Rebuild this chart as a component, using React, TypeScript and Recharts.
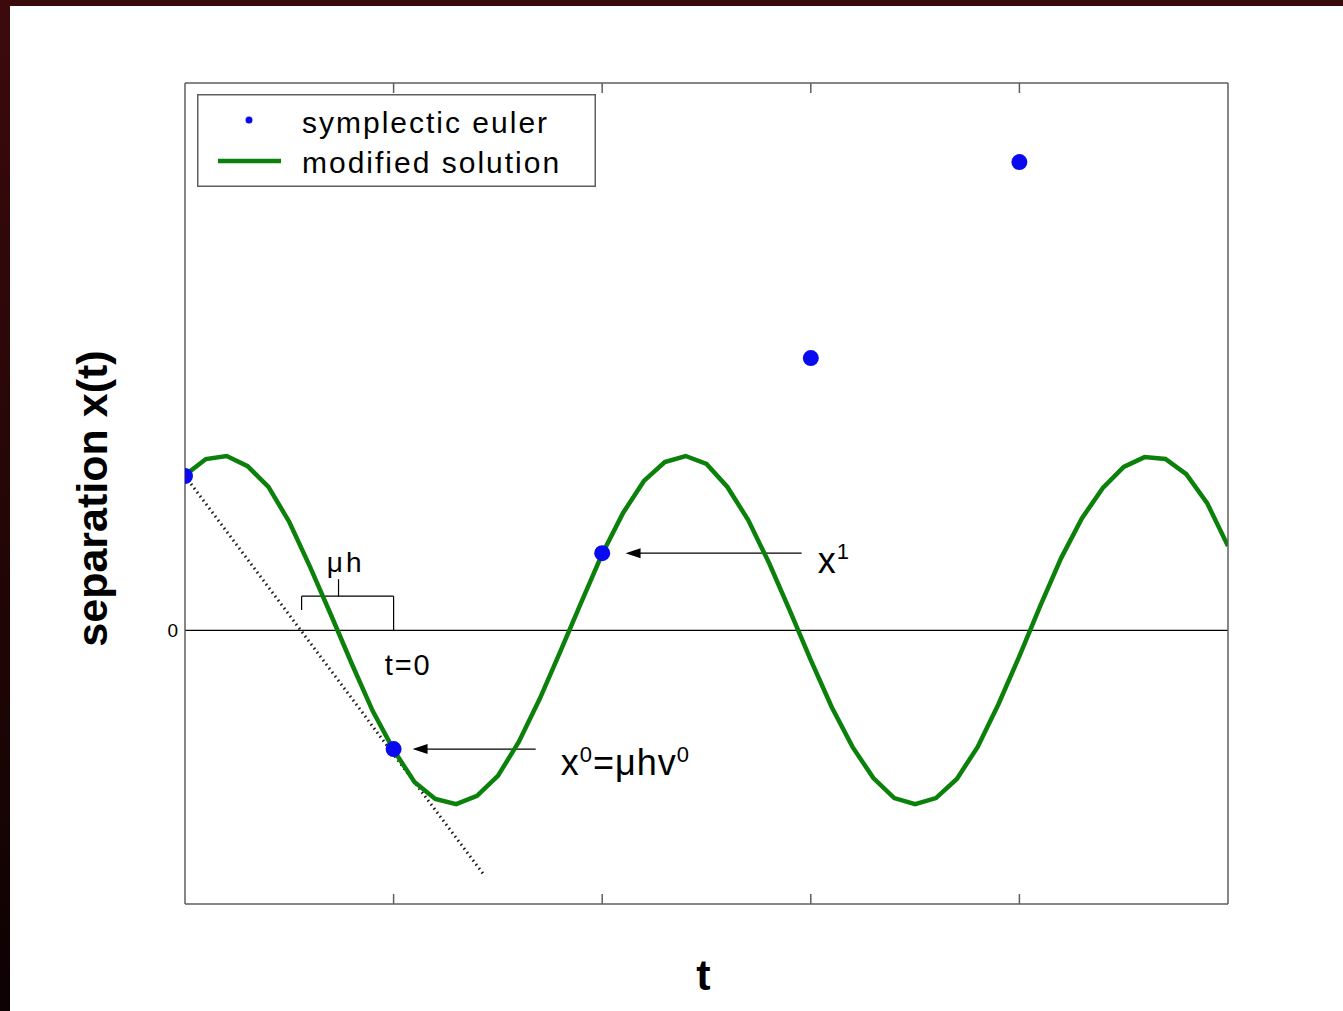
import React from 'react';
import {
  ComposedChart,
  Line,
  Scatter,
  XAxis,
  YAxis,
  Label,
  Legend,
  ReferenceLine,
  ReferenceDot,
} from 'recharts';

// time grid of the modified solution (step h = 0.1)
const curveT = [
  -1.0, -0.9, -0.8, -0.7, -0.6, -0.5, -0.4, -0.3, -0.2, -0.1,
  0.0, 0.1, 0.2, 0.3, 0.4, 0.5, 0.6, 0.7, 0.8, 0.9,
  1.0, 1.1, 1.2, 1.3, 1.4, 1.5, 1.6, 1.7, 1.8, 1.9,
  2.0, 2.1, 2.2, 2.3, 2.4, 2.5, 2.6, 2.7, 2.8, 2.9,
  3.0, 3.1, 3.2, 3.3, 3.4, 3.5, 3.6, 3.7, 3.8, 3.9,
  4.0,
];
const curveX = [
  0.567, 0.626, 0.637, 0.600, 0.524, 0.396, 0.231, 0.056, -0.123, -0.295,
  -0.437, -0.554, -0.616, -0.635, -0.605, -0.532, -0.408, -0.251, -0.076, 0.103,
  0.279, 0.429, 0.546, 0.615, 0.637, 0.608, 0.524, 0.403, 0.246, 0.071,
  -0.109, -0.280, -0.426, -0.540, -0.613, -0.635, -0.613, -0.543, -0.426, -0.269,
  -0.094, 0.089, 0.264, 0.410, 0.520, 0.597, 0.633, 0.626, 0.571, 0.465,
  0.308,
];

// symplectic euler iterates
const eulerT = [-1, 0, 1, 2, 3];
const eulerX = [0.564, -0.434, 0.282, 0.995, 1.711];

// tangent at the first iterate (dotted)
const tangentT = [-1, 0.43];
const tangentX = [0.564, -0.89];

const xTicks = [0, 1, 2, 3];
const yTicks = [0];

const X_DOMAIN = [-1, 4];
const Y_DOMAIN = [-1, 2];

const BLUE = '#0a0af0';
const GREEN = '#0b800b';
const AXIS = '#5e5e5e';
const FONT = '"Liberation Sans", Arial, Helvetica, sans-serif';

// inward tick marks, 10px long on an 821px tall plot
const TICK = (10 / 821) * (Y_DOMAIN[1] - Y_DOMAIN[0]);

const curveData = curveT.map((t, i) => ({ t, v: curveX[i] }));
const eulerData = eulerT.map((t, i) => ({ t, v: eulerX[i] }));
const tangentData = tangentT.map((t, i) => ({ t, v: tangentX[i] }));

const EulerDot = (p: any) => <circle cx={p.cx} cy={p.cy} r={8} fill={BLUE} />;

const ArrowHead = (p: any) => (
  <polygon
    points={`${p.cx},${p.cy} ${p.cx + 15},${p.cy - 5} ${p.cx + 15},${p.cy + 5}`}
    fill="#000"
  />
);

const YTick = ({ x, y, payload }: any) => (
  <text x={x} y={y + 7} textAnchor="end" fontSize={19} fontFamily={FONT} fill="#000">
    {payload.value}
  </text>
);

const note = (content: React.ReactNode, size: number, spacing = 0) => (p: any) => (
  <text
    x={p.cx}
    y={p.cy}
    fontSize={size}
    letterSpacing={spacing}
    fontFamily={FONT}
    fill="#000"
  >
    {content}
  </text>
);

const x0Text = (
  <>
    x<tspan fontSize={22} dy={-13}>0</tspan>
    <tspan dy={13}>=μhv</tspan>
    <tspan fontSize={22} dy={-13}>0</tspan>
  </>
);
const x1Text = (
  <>
    x<tspan fontSize={22} dy={-14}>1</tspan>
  </>
);

const LegendBox = () => (
  <svg width={399} height={93} style={{ display: 'block' }}>
    <rect x={0.75} y={0.75} width={397.5} height={91.5} fill="#fff" stroke={AXIS} strokeWidth={1.5} />
    <circle cx={52} cy={26} r={3.5} fill={BLUE} />
    <line x1={21} x2={84} y1={67} y2={67} stroke={GREEN} strokeWidth={4.5} />
    <text x={105} y={39} fontSize={30} letterSpacing={2} fontFamily={FONT} fill="#000">
      symplectic euler
    </text>
    <text x={105} y={79} fontSize={30} letterSpacing={2} fontFamily={FONT} fill="#000">
      modified solution
    </text>
  </svg>
);

const YTitle = ({ viewBox }: any) => {
  const cx = viewBox.x - 38;
  const cy = viewBox.y + viewBox.height / 2 + 5;
  return (
    <text
      transform={`translate(${cx},${cy}) rotate(-90)`}
      textAnchor="middle"
      fontSize={43}
      fontWeight="bold"
      fontFamily={FONT}
      fill="#000"
    >
      separation x(t)
    </text>
  );
};

const XTitle = ({ viewBox }: any) => (
  <text
    x={viewBox.x + viewBox.width / 2 - 3}
    y={viewBox.y + 86}
    textAnchor="middle"
    fontSize={43}
    fontWeight="bold"
    fontFamily={FONT}
    fill="#000"
  >
    t
  </text>
);

export default function App() {
  return (
    <div
      style={{
        position: 'absolute',
        left: 0,
        top: 0,
        width: 1343,
        height: 1011,
        background: '#fff',
        fontFamily: FONT,
        overflow: 'hidden',
      }}
    >
      <ComposedChart
        width={1343}
        height={1011}
        margin={{ top: 63, right: 114, bottom: 87, left: 145 }}
      >
        <XAxis
          type="number"
          dataKey="t"
          domain={X_DOMAIN}
          ticks={xTicks}
          allowDataOverflow
          height={20}
          tick={false}
          tickLine={false}
          axisLine={{ stroke: AXIS, strokeWidth: 1.5 }}
        >
          <Label content={XTitle} />
        </XAxis>
        <XAxis
          xAxisId="top"
          orientation="top"
          type="number"
          dataKey="t"
          domain={X_DOMAIN}
          ticks={xTicks}
          allowDataOverflow
          height={20}
          tick={false}
          tickLine={false}
          axisLine={{ stroke: AXIS, strokeWidth: 1.5 }}
        />
        <YAxis
          type="number"
          domain={Y_DOMAIN}
          ticks={yTicks}
          allowDataOverflow
          width={40}
          tickLine={false}
          tickSize={6}
          tickMargin={1}
          tick={<YTick />}
          axisLine={{ stroke: AXIS, strokeWidth: 1.5 }}
        >
          <Label content={YTitle} />
        </YAxis>
        <YAxis
          yAxisId="right"
          orientation="right"
          type="number"
          domain={Y_DOMAIN}
          ticks={yTicks}
          width={1}
          tick={false}
          tickLine={false}
          axisLine={{ stroke: AXIS, strokeWidth: 1.5 }}
        />

        {/* inward tick marks along the top and bottom of the frame */}
        {xTicks.map((t) => (
          <ReferenceLine
            key={`b${t}`}
            segment={[{ x: t, y: Y_DOMAIN[0] }, { x: t, y: Y_DOMAIN[0] + TICK }]}
            stroke={AXIS}
            strokeWidth={1.5}
          />
        ))}
        {xTicks.map((t) => (
          <ReferenceLine
            key={`t${t}`}
            segment={[{ x: t, y: Y_DOMAIN[1] }, { x: t, y: Y_DOMAIN[1] - TICK }]}
            stroke={AXIS}
            strokeWidth={1.5}
          />
        ))}

        <ReferenceLine y={0} stroke="#000" strokeWidth={1.2} />

        {/* bracket marking the step μh */}
        <ReferenceLine segment={[{ x: -0.441, y: 0.125 }, { x: 0, y: 0.125 }]} stroke="#000" strokeWidth={1.2} />
        <ReferenceLine segment={[{ x: -0.441, y: 0.125 }, { x: -0.441, y: 0.074 }]} stroke="#000" strokeWidth={1.2} />
        <ReferenceLine segment={[{ x: 0, y: 0.125 }, { x: 0, y: 0 }]} stroke="#000" strokeWidth={1.2} />
        <ReferenceLine segment={[{ x: -0.264, y: 0.125 }, { x: -0.264, y: 0.187 }]} stroke="#000" strokeWidth={1.2} />

        {/* arrows pointing at x^0 and x^1 */}
        <ReferenceLine segment={[{ x: 0.14, y: -0.434 }, { x: 0.681, y: -0.434 }]} stroke="#000" strokeWidth={1.2} />
        <ReferenceDot x={0.091} y={-0.434} r={0} shape={ArrowHead} />
        <ReferenceLine segment={[{ x: 1.16, y: 0.282 }, { x: 1.956, y: 0.282 }]} stroke="#000" strokeWidth={1.2} />
        <ReferenceDot x={1.112} y={0.282} r={0} shape={ArrowHead} />

        <Line
          data={tangentData}
          dataKey="v"
          type="linear"
          stroke="#111"
          strokeWidth={3}
          strokeDasharray="1.5 3.5"
          dot={false}
          activeDot={false}
          isAnimationActive={false}
        />
        <Line
          data={curveData}
          dataKey="v"
          type="linear"
          stroke={GREEN}
          strokeWidth={4.5}
          dot={false}
          activeDot={false}
          isAnimationActive={false}
        />
        <Scatter data={eulerData} dataKey="v" shape={EulerDot} isAnimationActive={false} />

        <ReferenceDot x={-0.32} y={0.213} r={0} shape={note('μh', 28, 3)} />
        <ReferenceDot x={-0.043} y={-0.163} r={0} shape={note('t=0', 29, 2)} />
        <ReferenceDot x={0.801} y={-0.528} r={0} shape={note(x0Text, 36, 1)} />
        <ReferenceDot x={2.033} y={0.209} r={0} shape={note(x1Text, 36, 1)} />

        <Legend
          layout="horizontal"
          verticalAlign="middle"
          align="center"
          content={LegendBox}
          wrapperStyle={{ left: 197, top: 94, width: 399, height: 93 }}
        />
      </ComposedChart>

      {/* slide frame */}
      <div style={{ position: 'absolute', left: 0, top: 0, width: 1343, height: 6, background: '#3a090b' }} />
      <div
        style={{
          position: 'absolute',
          left: 0,
          top: 0,
          width: 10,
          height: 1011,
          background: 'linear-gradient(#3c0a0c, #0e0202)',
        }}
      />
    </div>
  );
}
